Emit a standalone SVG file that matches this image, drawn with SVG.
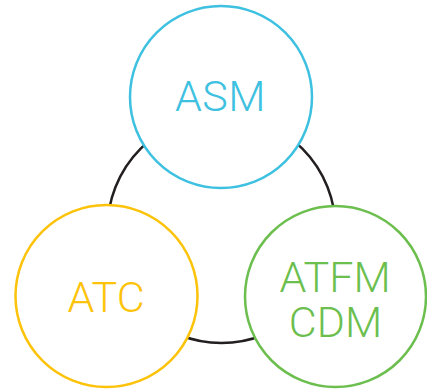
<svg xmlns="http://www.w3.org/2000/svg" width="427" height="391" viewBox="0 0 427 391">
<style>
.node{fill:#fff;stroke-width:2.5}
.lbl{font-family:Roboto,"Liberation Sans",Arial,sans-serif;font-weight:300;font-size:43px;text-anchor:middle}
.link{fill:none;stroke:#231f20;stroke-width:2.5}
</style>
<rect width="427" height="391" fill="#fff"/>
<g id="connectors">
<circle class="link" cx="221.5" cy="229" r="114"/>
</g>
<g id="asm">
<circle class="node" cx="221" cy="97" r="91" stroke="#3ec1e1"/>
<text class="lbl" x="220.5" y="111" fill="#3ec1e1" letter-spacing="0.5">ASM</text>
</g>
<g id="atc">
<circle class="node" cx="106.5" cy="296" r="91" stroke="#fcc30a"/>
<text class="lbl" x="106" y="312" fill="#fcc30a">ATC</text>
</g>
<g id="atfm-cdm">
<circle class="node" cx="335.5" cy="296.5" r="90.5" stroke="#6cbf4f"/>
<text class="lbl" x="335" y="292" fill="#6cbf4f">ATFM</text>
<text class="lbl" x="335.5" y="337" fill="#6cbf4f">CDM</text>
</g>
</svg>
